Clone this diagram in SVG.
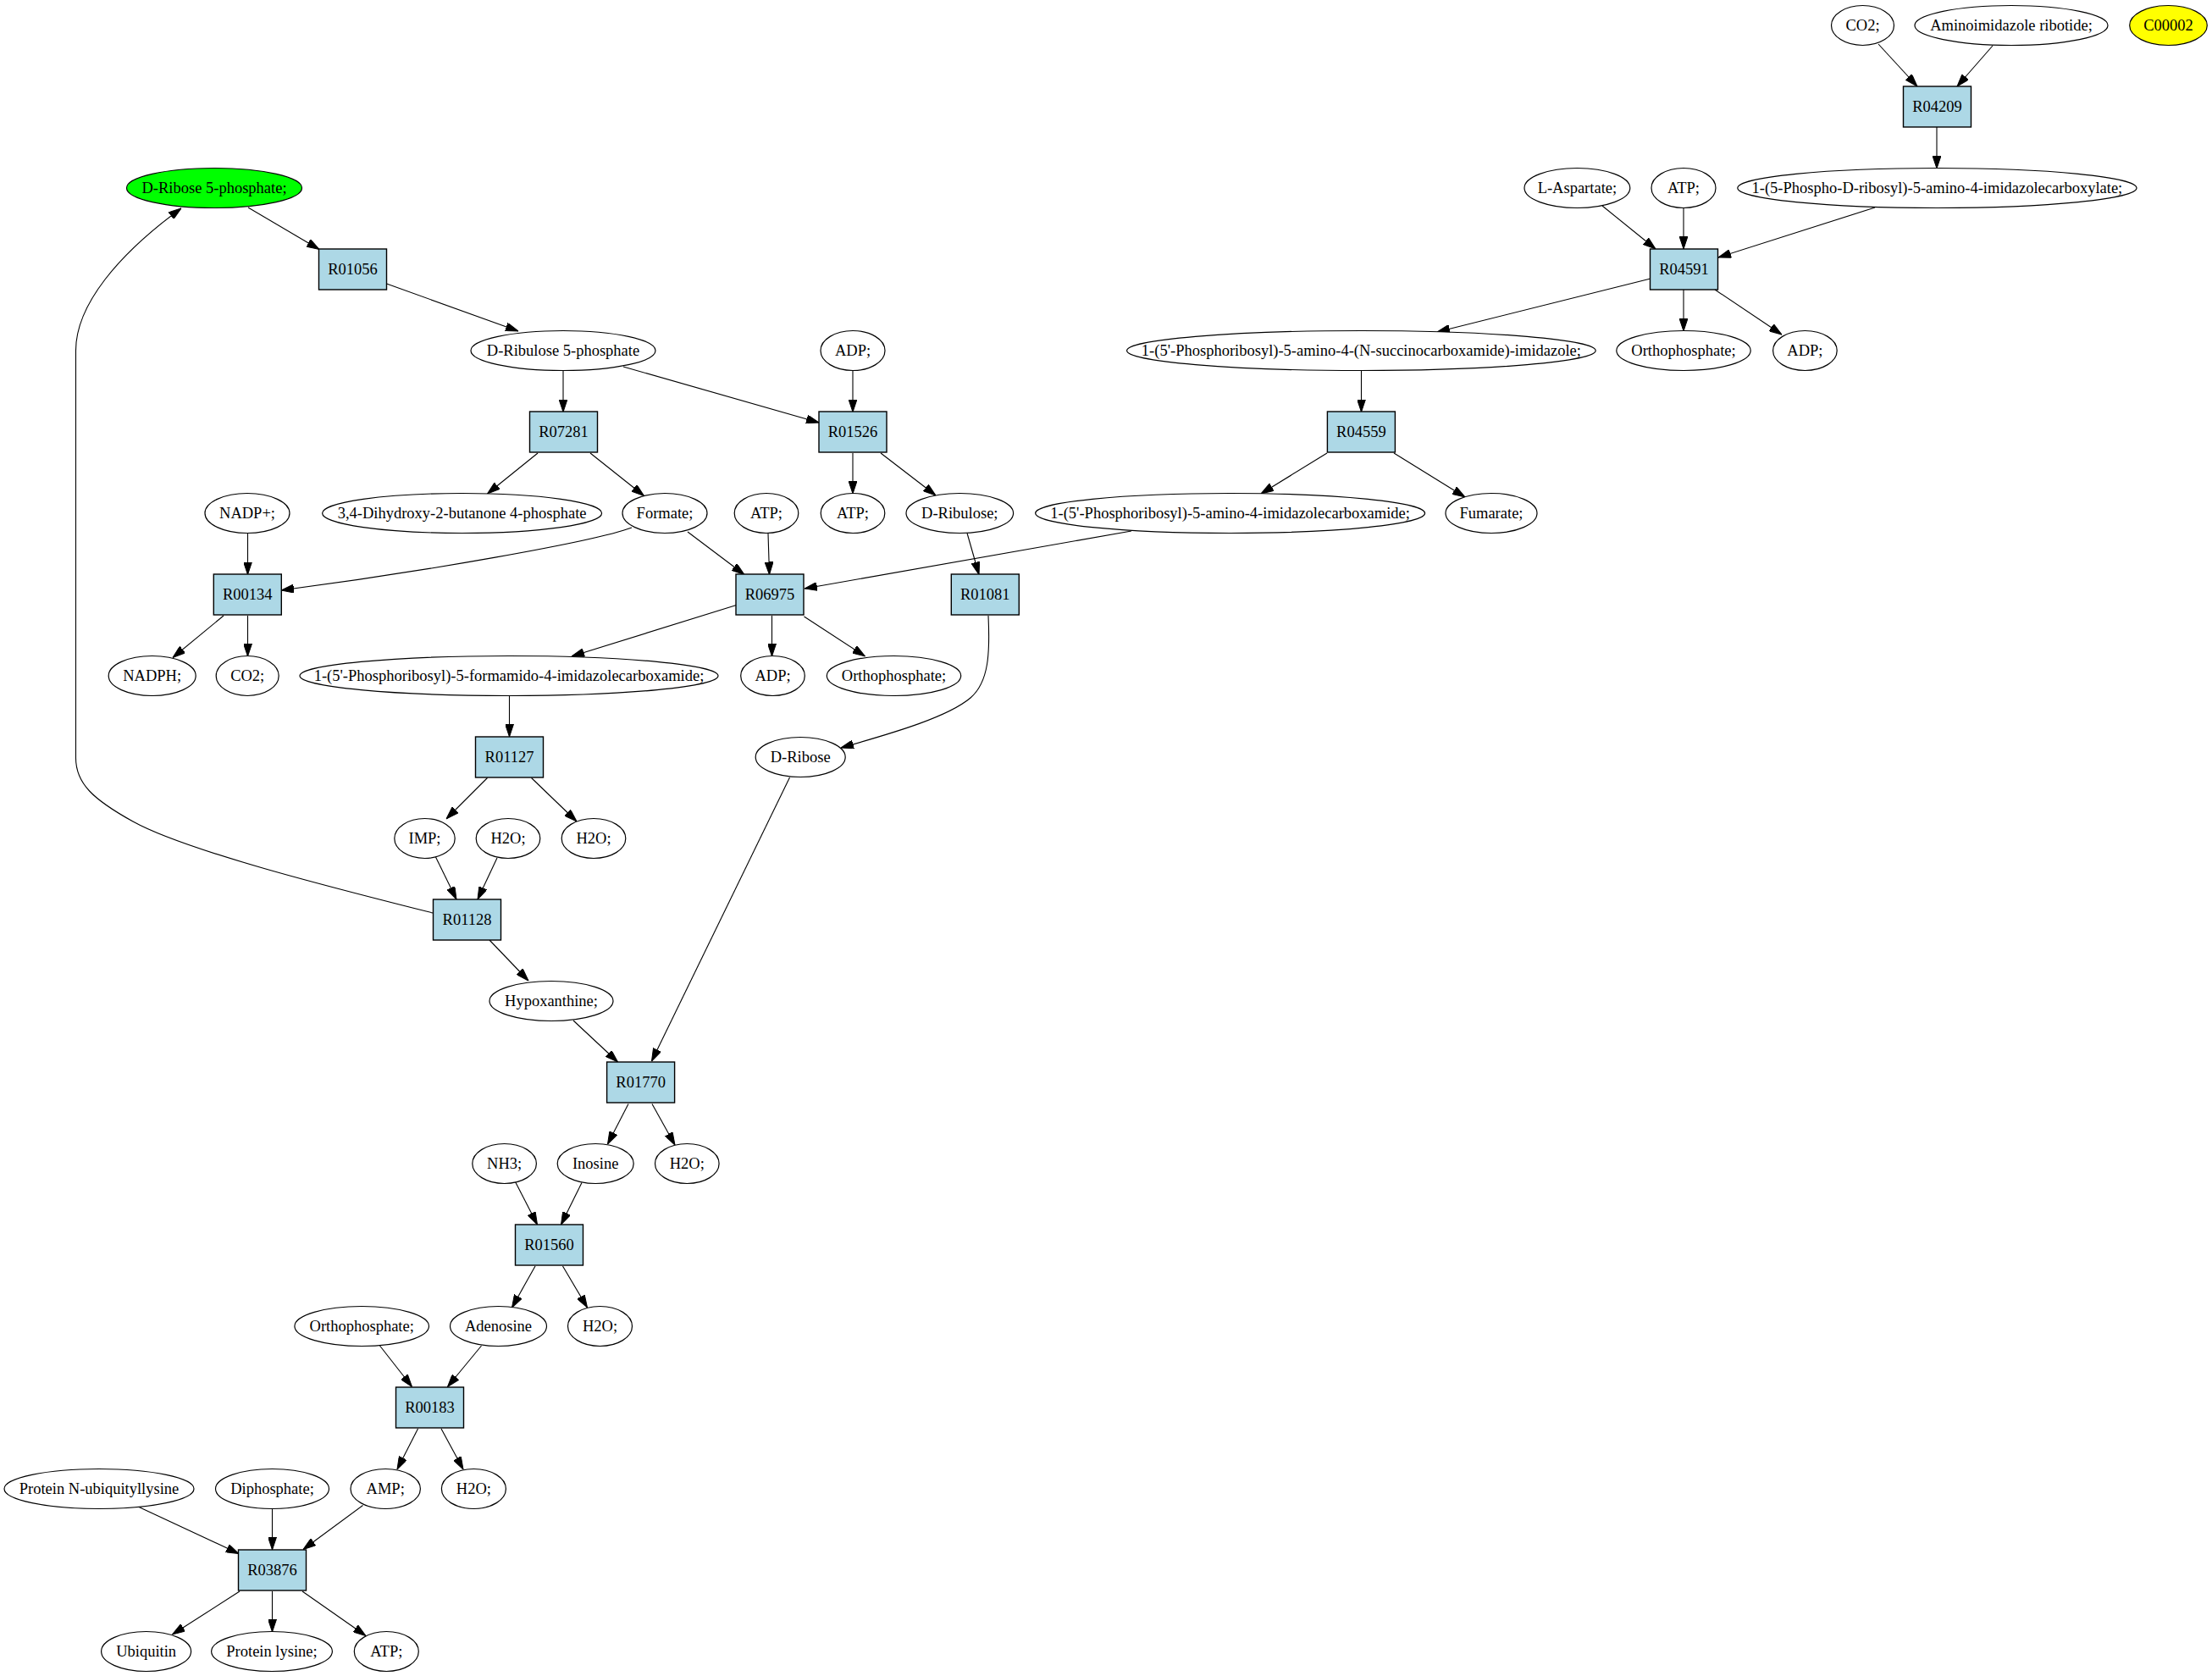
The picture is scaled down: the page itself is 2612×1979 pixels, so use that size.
<svg xmlns="http://www.w3.org/2000/svg" width="2612" height="1979" viewBox="0 0 2612 1979">
<style>
.e{fill:#ffffff;stroke:#000;stroke-width:1.2}
.r{fill:#add8e6;stroke:#000;stroke-width:1.4}
.g{fill:#00ff00;stroke:#000;stroke-width:1.2}
.y{fill:#ffff00;stroke:#000;stroke-width:1.2}
text{font-family:"Liberation Serif","Times New Roman",serif;font-size:18.5px;text-anchor:middle;fill:#000}
.c path{fill:none;stroke:#000;stroke-width:1.1;marker-end:url(#ah)}
</style>
<defs>
<marker id="ah" viewBox="0 0 15 10" refX="15" refY="5" markerWidth="15" markerHeight="10" markerUnits="userSpaceOnUse" orient="auto">
<path d="M0,0 L15,5 L0,10 z" fill="#000" stroke="#000" stroke-width="1"/>
</marker>
</defs>
<rect width="2612" height="1979" fill="#ffffff"/>
<g id="connectors" class="c">
<path d="M2218,52 L2264,102"/>
<path d="M2353,54 L2311,102"/>
<path d="M2287,150 L2287,199"/>
<path d="M1892,243 L1955,294"/>
<path d="M1988,246 L1988,294"/>
<path d="M2214,245 L2029,304"/>
<path d="M1949,329 L1697,392"/>
<path d="M1988,342 L1988,391"/>
<path d="M2025,342 L2104,395"/>
<path d="M1607.5,438 L1607.5,486.5"/>
<path d="M1567,535 L1489,583"/>
<path d="M1646,535 L1730,587"/>
<path d="M1336,627 L950,695"/>
<path d="M293,245 L377,294.5"/>
<path d="M456.5,335 L612,391"/>
<path d="M665,438 L665,486.5"/>
<path d="M736,433 L967,499"/>
<path d="M1007,438 L1007,486.5"/>
<path d="M635,535 L575.5,583"/>
<path d="M697,535 L760.5,585.5"/>
<path d="M1007,535 L1007,583"/>
<path d="M1040,535 L1105,585"/>
<path d="M292.5,629 L292.5,678.5"/>
<path d="M746,623 C700,640 500,675 332,697"/>
<path d="M812,628 L879,678.5"/>
<path d="M907,629.5 L908.5,678.5"/>
<path d="M1142,629.5 L1156,678.5"/>
<path d="M264,727 L204,776.5"/>
<path d="M292.5,727 L292.5,775"/>
<path d="M869.5,714.5 L675,775"/>
<path d="M911.5,727 L911.5,775"/>
<path d="M949.5,728 L1021.5,775"/>
<path d="M1167,727 C1169,770 1168,805 1146,824 C1120,846 1060,864 993,883"/>
<path d="M601.5,822 L601.5,870"/>
<path d="M575.5,918.5 L527,967"/>
<path d="M627.5,918.5 L681,970"/>
<path d="M514.5,1012 L539,1062"/>
<path d="M587,1013 L564,1062"/>
<path d="M511,1078 C400,1050 220,1005 157,970 C110,944 89.5,925 89.5,895 L89.5,414 C89.5,360 140,300 214,246"/>
<path d="M578,1110 L624,1158"/>
<path d="M677,1205 L729.5,1254"/>
<path d="M932.5,918 L769.5,1253"/>
<path d="M742,1303.5 L717.5,1351"/>
<path d="M770,1303.5 L797,1352"/>
<path d="M608,1394.5 L634.5,1446"/>
<path d="M687,1396.5 L662.5,1446"/>
<path d="M632,1495 L604.5,1544"/>
<path d="M664.5,1495 L693.5,1544"/>
<path d="M448.5,1589 L486.5,1637.5"/>
<path d="M568.5,1589 L528.5,1637.5"/>
<path d="M493.5,1687 L469,1735"/>
<path d="M521,1687 L547,1735"/>
<path d="M163,1779 L282,1834.5"/>
<path d="M321.5,1781 L321.5,1830"/>
<path d="M428.5,1777.5 L358,1829.5"/>
<path d="M283,1879 L203.5,1930"/>
<path d="M321.5,1879 L321.5,1927"/>
<path d="M357,1879 L432,1931.5"/>
</g>
<g id="n_co2_top"><ellipse class="e" cx="2199.5" cy="30" rx="37" ry="23.5"/><text x="2199.5" y="36">CO2;</text></g>
<g id="n_air"><ellipse class="e" cx="2375" cy="30" rx="114" ry="23.5"/><text x="2375" y="36">Aminoimidazole ribotide;</text></g>
<g id="n_c00002"><ellipse class="y" cx="2560.5" cy="30" rx="45.8" ry="23.5"/><text x="2560.5" y="36">C00002</text></g>
<g id="n_r04209"><rect class="r" x="2247.5" y="102" width="80" height="48"/><text x="2287.5" y="132">R04209</text></g>
<g id="n_dr5p"><ellipse class="g" cx="253" cy="222" rx="103.5" ry="23.5"/><text x="253" y="228">D-Ribose 5-phosphate;</text></g>
<g id="n_asp"><ellipse class="e" cx="1862.4" cy="222" rx="62.4" ry="23.5"/><text x="1862.4" y="228">L-Aspartate;</text></g>
<g id="n_atp1"><ellipse class="e" cx="1988" cy="222" rx="38" ry="23.5"/><text x="1988" y="228">ATP;</text></g>
<g id="n_carboxylate"><ellipse class="e" cx="2287.4" cy="222" rx="235.6" ry="23.5"/><text x="2287.4" y="228">1-(5-Phospho-D-ribosyl)-5-amino-4-imidazolecarboxylate;</text></g>
<g id="n_r01056"><rect class="r" x="376.5" y="294" width="80" height="48"/><text x="416.5" y="324">R01056</text></g>
<g id="n_r04591"><rect class="r" x="1948.5" y="294" width="80" height="48"/><text x="1988.5" y="324">R04591</text></g>
<g id="n_ru5p"><ellipse class="e" cx="665" cy="414" rx="109" ry="23.5"/><text x="665" y="420">D-Ribulose 5-phosphate</text></g>
<g id="n_adp1"><ellipse class="e" cx="1007" cy="414" rx="38" ry="23.5"/><text x="1007" y="420">ADP;</text></g>
<g id="n_succino"><ellipse class="e" cx="1607.4" cy="414" rx="276.8" ry="23.5"/><text x="1607.4" y="420">1-(5'-Phosphoribosyl)-5-amino-4-(N-succinocarboxamide)-imidazole;</text></g>
<g id="n_pi1"><ellipse class="e" cx="1988" cy="414" rx="79.2" ry="23.5"/><text x="1988" y="420">Orthophosphate;</text></g>
<g id="n_adp2"><ellipse class="e" cx="2131.4" cy="414" rx="37.8" ry="23.5"/><text x="2131.4" y="420">ADP;</text></g>
<g id="n_r07281"><rect class="r" x="625.5" y="486" width="80" height="48"/><text x="665.5" y="516">R07281</text></g>
<g id="n_r01526"><rect class="r" x="967" y="486" width="80" height="48"/><text x="1007" y="516">R01526</text></g>
<g id="n_r04559"><rect class="r" x="1567.4" y="486" width="80" height="48"/><text x="1607.4" y="516">R04559</text></g>
<g id="n_nadp"><ellipse class="e" cx="292" cy="606" rx="50" ry="23.5"/><text x="292" y="612">NADP+;</text></g>
<g id="n_dhbp"><ellipse class="e" cx="545.6" cy="606" rx="165" ry="23.5"/><text x="545.6" y="612">3,4-Dihydroxy-2-butanone 4-phosphate</text></g>
<g id="n_formate"><ellipse class="e" cx="785" cy="606" rx="50" ry="23.5"/><text x="785" y="612">Formate;</text></g>
<g id="n_atp2"><ellipse class="e" cx="905" cy="606" rx="37.8" ry="23.5"/><text x="905" y="612">ATP;</text></g>
<g id="n_atp3"><ellipse class="e" cx="1007" cy="606" rx="37.8" ry="23.5"/><text x="1007" y="612">ATP;</text></g>
<g id="n_ribulose"><ellipse class="e" cx="1133.3" cy="606" rx="63.3" ry="23.5"/><text x="1133.3" y="612">D-Ribulose;</text></g>
<g id="n_carboxamide"><ellipse class="e" cx="1452.6" cy="606" rx="230" ry="23.5"/><text x="1452.6" y="612">1-(5'-Phosphoribosyl)-5-amino-4-imidazolecarboxamide;</text></g>
<g id="n_fumarate"><ellipse class="e" cx="1761" cy="606" rx="54" ry="23.5"/><text x="1761" y="612">Fumarate;</text></g>
<g id="n_r00134"><rect class="r" x="252.3" y="678" width="80" height="48"/><text x="292.3" y="708">R00134</text></g>
<g id="n_r06975"><rect class="r" x="869" y="678" width="80" height="48"/><text x="909" y="708">R06975</text></g>
<g id="n_r01081"><rect class="r" x="1123.3" y="678" width="80" height="48"/><text x="1163.3" y="708">R01081</text></g>
<g id="n_nadph"><ellipse class="e" cx="179.7" cy="798" rx="51.5" ry="23.5"/><text x="179.7" y="804">NADPH;</text></g>
<g id="n_co2_2"><ellipse class="e" cx="292.2" cy="798" rx="37" ry="23.5"/><text x="292.2" y="804">CO2;</text></g>
<g id="n_formamido"><ellipse class="e" cx="601" cy="798" rx="247" ry="23.5"/><text x="601" y="804">1-(5'-Phosphoribosyl)-5-formamido-4-imidazolecarboxamide;</text></g>
<g id="n_adp3"><ellipse class="e" cx="912.5" cy="798" rx="37.8" ry="23.5"/><text x="912.5" y="804">ADP;</text></g>
<g id="n_pi2"><ellipse class="e" cx="1055.5" cy="798" rx="79.2" ry="23.5"/><text x="1055.5" y="804">Orthophosphate;</text></g>
<g id="n_r01127"><rect class="r" x="561.5" y="870" width="80" height="48"/><text x="601.5" y="900">R01127</text></g>
<g id="n_ribose"><ellipse class="e" cx="945.2" cy="894" rx="53" ry="23.5"/><text x="945.2" y="900">D-Ribose</text></g>
<g id="n_imp"><ellipse class="e" cx="501.5" cy="990" rx="35.7" ry="23.5"/><text x="501.5" y="996">IMP;</text></g>
<g id="n_h2o1"><ellipse class="e" cx="600" cy="990" rx="37.8" ry="23.5"/><text x="600" y="996">H2O;</text></g>
<g id="n_h2o2"><ellipse class="e" cx="701" cy="990" rx="37.8" ry="23.5"/><text x="701" y="996">H2O;</text></g>
<g id="n_r01128"><rect class="r" x="511.5" y="1062" width="80" height="48"/><text x="551.5" y="1092">R01128</text></g>
<g id="n_hypox"><ellipse class="e" cx="651" cy="1182" rx="73" ry="23.5"/><text x="651" y="1188">Hypoxanthine;</text></g>
<g id="n_r01770"><rect class="r" x="716.6" y="1254" width="80" height="48"/><text x="756.6" y="1284">R01770</text></g>
<g id="n_nh3"><ellipse class="e" cx="595.6" cy="1374" rx="37.8" ry="23.5"/><text x="595.6" y="1380">NH3;</text></g>
<g id="n_inosine"><ellipse class="e" cx="703.2" cy="1374" rx="45" ry="23.5"/><text x="703.2" y="1380">Inosine</text></g>
<g id="n_h2o3"><ellipse class="e" cx="811.3" cy="1374" rx="37.8" ry="23.5"/><text x="811.3" y="1380">H2O;</text></g>
<g id="n_r01560"><rect class="r" x="608.5" y="1446" width="80" height="48"/><text x="648.5" y="1476">R01560</text></g>
<g id="n_pi3"><ellipse class="e" cx="427.2" cy="1566" rx="79.3" ry="23.5"/><text x="427.2" y="1572">Orthophosphate;</text></g>
<g id="n_adenosine"><ellipse class="e" cx="588.5" cy="1566" rx="57" ry="23.5"/><text x="588.5" y="1572">Adenosine</text></g>
<g id="n_h2o4"><ellipse class="e" cx="708.5" cy="1566" rx="38" ry="23.5"/><text x="708.5" y="1572">H2O;</text></g>
<g id="n_r00183"><rect class="r" x="467.5" y="1638" width="80" height="48"/><text x="507.5" y="1668">R00183</text></g>
<g id="n_protub"><ellipse class="e" cx="117" cy="1758" rx="112" ry="23.5"/><text x="117" y="1764">Protein N-ubiquityllysine</text></g>
<g id="n_ppi"><ellipse class="e" cx="321.5" cy="1758" rx="67" ry="23.5"/><text x="321.5" y="1764">Diphosphate;</text></g>
<g id="n_amp"><ellipse class="e" cx="455.2" cy="1758" rx="41.2" ry="23.5"/><text x="455.2" y="1764">AMP;</text></g>
<g id="n_h2o5"><ellipse class="e" cx="559.4" cy="1758" rx="38" ry="23.5"/><text x="559.4" y="1764">H2O;</text></g>
<g id="n_r03876"><rect class="r" x="281.5" y="1830" width="80" height="48"/><text x="321.5" y="1860">R03876</text></g>
<g id="n_ubiquitin"><ellipse class="e" cx="172.6" cy="1950" rx="53" ry="23.5"/><text x="172.6" y="1956">Ubiquitin</text></g>
<g id="n_protlys"><ellipse class="e" cx="321" cy="1950" rx="71.4" ry="23.5"/><text x="321" y="1956">Protein lysine;</text></g>
<g id="n_atp4"><ellipse class="e" cx="456.3" cy="1950" rx="38" ry="23.5"/><text x="456.3" y="1956">ATP;</text></g>
</svg>
